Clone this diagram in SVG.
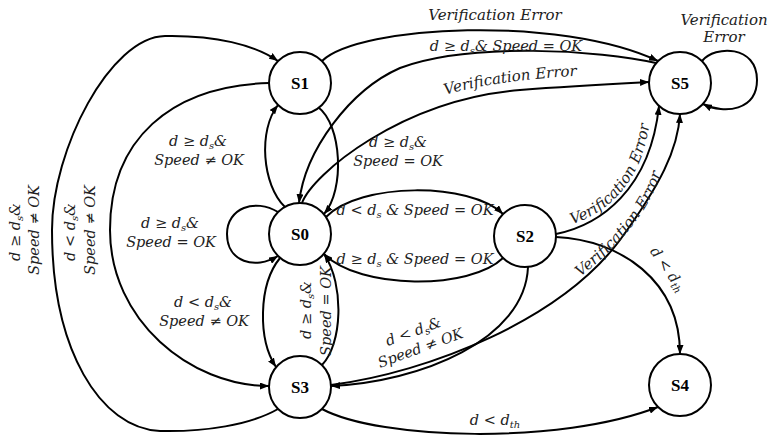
<svg xmlns="http://www.w3.org/2000/svg" width="771" height="438" viewBox="0 0 771 438">
<style>
.edge{fill:none;stroke:#000;stroke-width:2;marker-end:url(#ah)}
.node circle{fill:#fff;stroke:#000;stroke-width:2}
.node text{font-family:"Liberation Serif",serif;font-weight:bold;font-size:17px;text-anchor:middle;fill:#000}
.lbl{font-family:"DejaVu Serif",serif;font-style:italic;font-size:15px;fill:#222;text-anchor:middle}
.m{font-size:14.5px}
.sub{font-size:10px}
</style>
<defs>
<marker id="ah" viewBox="0 0 9 7" refX="9" refY="3.5" markerWidth="9" markerHeight="7" markerUnits="userSpaceOnUse" orient="auto">
<path d="M0,0 L9,3.5 L0,7 Z" fill="#000"/>
</marker>
<path id="tp1" d="M 433,99 C 470,85 530,78 590,75"/>
<path id="tp2" d="M 565,226 C 604,217 644,184 650,117"/>
<path id="tp3" d="M 574,282 C 602,260 652,217 663,165"/>
</defs>
<rect width="771" height="438" fill="#fff"/>
<g id="connectors">
<path class="edge" d="M 278,409 C 250,425 205,432 160,431 C 100,428 52,350 52,230 C 52,150 110,37 165,36 C 215,35 255,45 278,61"/>
<path class="edge" d="M 269,83 C 170,86 110,140 110,230 C 110,320 190,386 269,386"/>
<path class="edge" d="M 285,207 C 262,185 258,130 278,105"/>
<path class="edge" d="M 318,107 C 342,125 345,190 324,214"/>
<path class="edge" d="M 322,61 C 360,25 560,15 658,61"/>
<path class="edge" d="M 656,63 C 600,50 470,42 400,68 C 350,90 305,150 299,203"/>
<path class="edge" d="M 302,203 C 312,175 400,100 520,90 C 570,86 610,84 649,82"/>
<path class="edge" d="M 278,212 C 255,198 227,208 227,234 C 227,262 255,270 278,256"/>
<path class="edge" d="M 326,217 C 360,182 470,182 503,214"/>
<path class="edge" d="M 503,258 C 470,290 360,290 324,254"/>
<path class="edge" d="M 280,258 C 258,285 258,340 276,367"/>
<path class="edge" d="M 322,365 C 342,345 345,285 324,254"/>
<path class="edge" d="M 528,267 C 525,340 420,382 331,386"/>
<path class="edge" d="M 331,385 C 430,372 560,320 620,240 C 660,185 678,150 680,114"/>
<path class="edge" d="M 556,234 C 600,225 650,190 659,106"/>
<path class="edge" d="M 556,237 C 620,240 680,280 680,354"/>
<path class="edge" d="M 322,409 C 380,440 560,445 658,407"/>
<path class="edge" d="M 702,61 C 715,45 757,45 757,80 C 757,110 725,115 703,104"/>
</g>
<g id="labels">
<text class="lbl" x="495" y="20">Verification Error</text>
<text class="lbl m" x="506" y="51">d ≥ d<tspan class="sub" dy="3">s</tspan><tspan dy="-3">&amp; Speed = OK</tspan></text>
<text class="lbl"><textPath href="#tp1" startOffset="50%">Verification Error</textPath></text>
<text class="lbl m" x="398" y="147">d ≥ d<tspan class="sub" dy="3">s</tspan><tspan dy="-3">&amp;</tspan></text>
<text class="lbl m" x="398" y="166">Speed = OK</text>
<text class="lbl m" x="198" y="146">d ≥ d<tspan class="sub" dy="3">s</tspan><tspan dy="-3">&amp;</tspan></text>
<text class="lbl m" x="199" y="165">Speed ≠ OK</text>
<text class="lbl m" x="170" y="228">d ≥ d<tspan class="sub" dy="3">s</tspan><tspan dy="-3">&amp;</tspan></text>
<text class="lbl m" x="171" y="247">Speed = OK</text>
<text class="lbl m" x="203" y="307">d &lt; d<tspan class="sub" dy="3">s</tspan><tspan dy="-3">&amp;</tspan></text>
<text class="lbl m" x="204" y="326">Speed ≠ OK</text>
<text class="lbl m" x="415" y="215">d &lt; d<tspan class="sub" dy="3">s</tspan><tspan dy="-3"> &amp; Speed = OK</tspan></text>
<text class="lbl m" x="415" y="264">d ≥ d<tspan class="sub" dy="3">s</tspan><tspan dy="-3"> &amp; Speed = OK</tspan></text>
<text class="lbl m" transform="translate(20,232) rotate(-90)">d ≥ d<tspan class="sub" dy="3">s</tspan><tspan dy="-3">&amp;</tspan></text>
<text class="lbl m" transform="translate(39,230) rotate(-90)">Speed ≠ OK</text>
<text class="lbl m" transform="translate(75,232) rotate(-90)">d &lt; d<tspan class="sub" dy="3">s</tspan><tspan dy="-3">&amp;</tspan></text>
<text class="lbl m" transform="translate(95,230) rotate(-90)">Speed ≠ OK</text>
<text class="lbl m" transform="translate(311,310) rotate(-90)">d ≥ d<tspan class="sub" dy="3">s</tspan><tspan dy="-3">&amp;</tspan></text>
<text class="lbl m" transform="translate(331,311) rotate(-90)">Speed = OK</text>
<g transform="translate(415,336) rotate(-20)">
<text class="lbl m" x="0" y="0">d &lt; d<tspan class="sub" dy="3">s</tspan><tspan dy="-3">&amp;</tspan></text>
<text class="lbl m" x="1" y="18">Speed ≠ OK</text>
</g>
<text class="lbl"><textPath href="#tp2" startOffset="50%">Verification Error</textPath></text>
<text class="lbl"><textPath href="#tp3" startOffset="50%">Verification Error</textPath></text>
<text class="lbl m" transform="translate(664,272) rotate(55)">d &lt; d<tspan class="sub" dy="3">th</tspan></text>
<text class="lbl m" x="495" y="425">d &lt; d<tspan class="sub" dy="3">th</tspan></text>
<text class="lbl" x="724" y="25">Verification</text>
<text class="lbl" x="724" y="42">Error</text>
</g>
<g id="S0" class="node"><circle cx="300" cy="234" r="31"/><text x="300" y="240">S0</text></g>
<g id="S1" class="node"><circle cx="300" cy="83" r="31"/><text x="300" y="89">S1</text></g>
<g id="S2" class="node"><circle cx="525" cy="236" r="31"/><text x="525" y="242">S2</text></g>
<g id="S3" class="node"><circle cx="300" cy="387" r="31"/><text x="300" y="393">S3</text></g>
<g id="S4" class="node"><circle cx="680" cy="385" r="31"/><text x="680" y="391">S4</text></g>
<g id="S5" class="node"><circle cx="680" cy="83" r="31"/><text x="680" y="89">S5</text></g>
</svg>
